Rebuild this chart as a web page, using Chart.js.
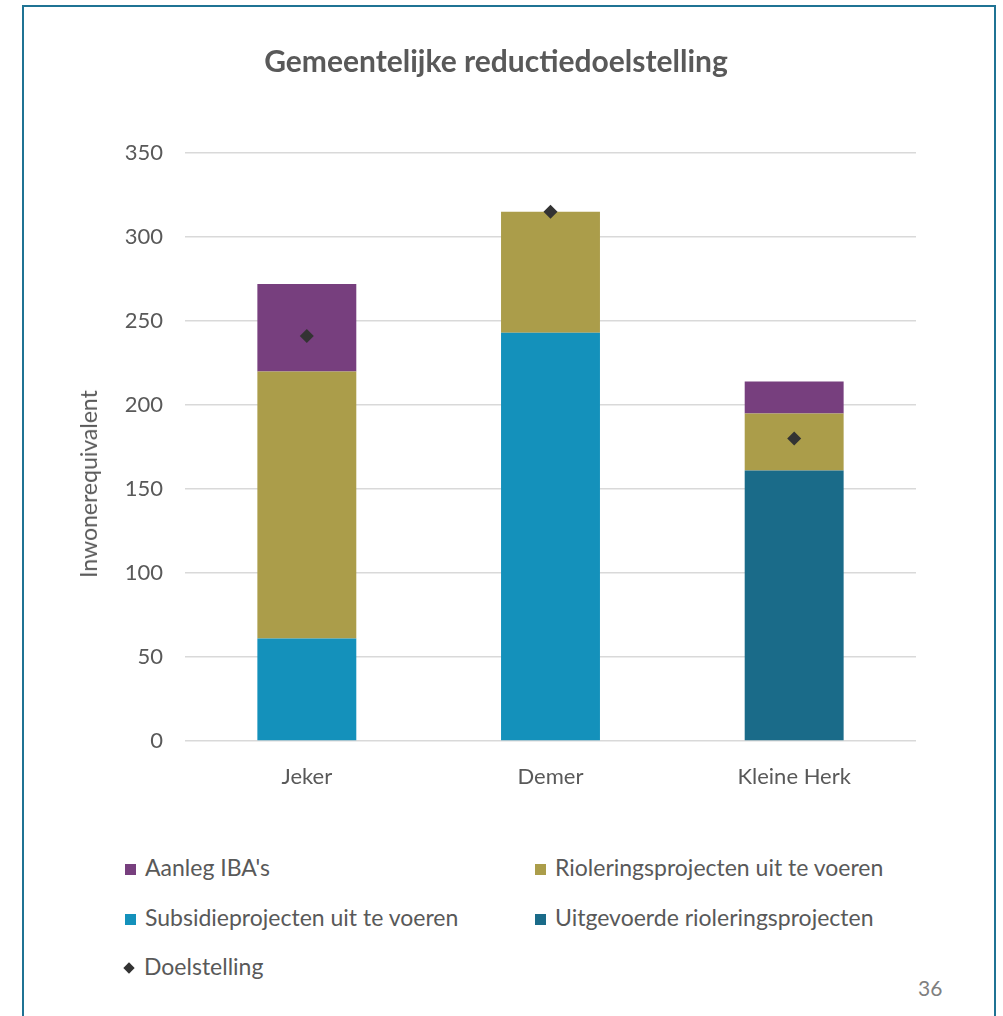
<!DOCTYPE html>
<html>
<head>
<meta charset="utf-8">
<script src="https://cdn.jsdelivr.net/npm/chart.js@4/dist/chart.umd.min.js"></script>
<style>
    body { margin: 0; background: #fff; font-family: Lato, sans-serif; }
    #frame {
        position: absolute; left: 22px; top: 5px; width: 974px; height: 1030px;
        border: 2px solid #1f7394; border-bottom: none; box-sizing: border-box;
    }
    #wrap { position: absolute; left: 0; top: 0; width: 1003px; height: 800px; }
    #ytitle {
        position: absolute; left: 88px; top: 484px; font-size: 23px; color: #595959;
        transform: translate(-50%, -50%) rotate(-90deg); white-space: nowrap;
    }
    .legend-item {
        position: absolute; font-size: 23px; color: #595959; line-height: 26px;
        white-space: nowrap;
    }
    .legend-item .box {
        display: inline-block; width: 11px; height: 11px; margin-right: 9px;
        vertical-align: 1px;
    }
    .legend-item .diamond {
        display: inline-block; width: 8px; height: 8px; margin: 0 11px 0 2px;
        background: #333; transform: rotate(45deg); vertical-align: 3px;
    }
    #page { position: absolute; left: 918px; top: 975px; font-size: 21px; color: #7f7f7f; }
</style>
</head>
<body>
<div id="frame"></div>
<div id="wrap"><canvas id="chart"></canvas></div>
<div id="ytitle">Inwonerequivalent</div>
<div id="legend"></div>
<div id="page">36</div>
<script>
const categories = ["Jeker", "Demer", "Kleine Herk"];
const subsidie = [61, 243, 0];
const uitgevoerd = [0, 0, 161];
const riolering = [159, 72, 34];
const iba = [52, 0, 19];
const doelstelling = [241, 315, 180];
const yTicks = [0, 50, 100, 150, 200, 250, 300, 350];

const colors = {
    iba: "#773f7e",
    riolering: "#ab9d4a",
    subsidie: "#1491bb",
    uitgevoerd: "#1a6b89",
    doel: "#333333"
};

const barOpts = { barPercentage: 0.406, categoryPercentage: 1, order: 1 };

const ctx = document.getElementById("chart").getContext("2d");
const chart = new Chart(ctx, {
    type: "bar",
    data: {
        labels: categories,
        datasets: [
            Object.assign({ label: "Subsidieprojecten uit te voeren", data: subsidie, backgroundColor: colors.subsidie }, barOpts),
            Object.assign({ label: "Uitgevoerde rioleringsprojecten", data: uitgevoerd, backgroundColor: colors.uitgevoerd }, barOpts),
            Object.assign({ label: "Rioleringsprojecten uit te voeren", data: riolering, backgroundColor: colors.riolering }, barOpts),
            Object.assign({ label: "Aanleg IBA's", data: iba, backgroundColor: colors.iba }, barOpts),
            {
                type: "line",
                label: "Doelstelling",
                data: doelstelling,
                stack: "doel",
                showLine: false,
                pointStyle: "rectRot",
                pointRadius: 7,
                pointHoverRadius: 7,
                backgroundColor: colors.doel,
                borderColor: colors.doel,
                borderWidth: 0,
                order: 0
            }
        ]
    },
    options: {
        responsive: true,
        maintainAspectRatio: false,
        animation: false,
        layout: { padding: { left: 76, right: 87, top: 30, bottom: 0 } },
        plugins: {
            legend: { display: false },
            tooltip: { enabled: false },
            title: {
                display: true,
                text: "Gemeentelijke reductiedoelstelling",
                color: "#595959",
                font: { family: "Lato", size: 30, weight: "bold" },
                padding: { top: 14, bottom: 73 }
            }
        },
        scales: {
            x: {
                stacked: true,
                grid: { display: false },
                border: { display: false },
                ticks: { color: "#595959", font: { family: "Lato", size: 22 }, padding: 15 },
                afterFit: s => { s.height = 59; }
            },
            y: {
                stacked: true,
                min: 0,
                max: 350,
                afterBuildTicks: s => { s.ticks = yTicks.map(v => ({ value: v })); },
                grid: { color: "#d9d9d9", lineWidth: 1.5, drawTicks: false },
                border: { display: false },
                ticks: { color: "#595959", font: { family: "Lato", size: 22 }, padding: 22 },
                afterFit: s => { s.width = 109; }
            }
        }
    }
});

// legend in two columns like the original
const legendItems = [
    { label: "Aanleg IBA's", color: colors.iba, x: 125, y: 854 },
    { label: "Rioleringsprojecten uit te voeren", color: colors.riolering, x: 535, y: 854 },
    { label: "Subsidieprojecten uit te voeren", color: colors.subsidie, x: 125, y: 904 },
    { label: "Uitgevoerde rioleringsprojecten", color: colors.uitgevoerd, x: 535, y: 904 },
    { label: "Doelstelling", color: colors.doel, x: 123, y: 953, diamond: true }
];
const legendEl = document.getElementById("legend");
legendItems.forEach(item => {
    const div = document.createElement("div");
    div.className = "legend-item";
    div.style.left = item.x + "px";
    div.style.top = item.y + "px";
    const mark = item.diamond
        ? '<span class="diamond"></span>'
        : `<span class="box" style="background:${item.color}"></span>`;
    div.innerHTML = mark + item.label;
    legendEl.appendChild(div);
});
</script>
</body>
</html>
